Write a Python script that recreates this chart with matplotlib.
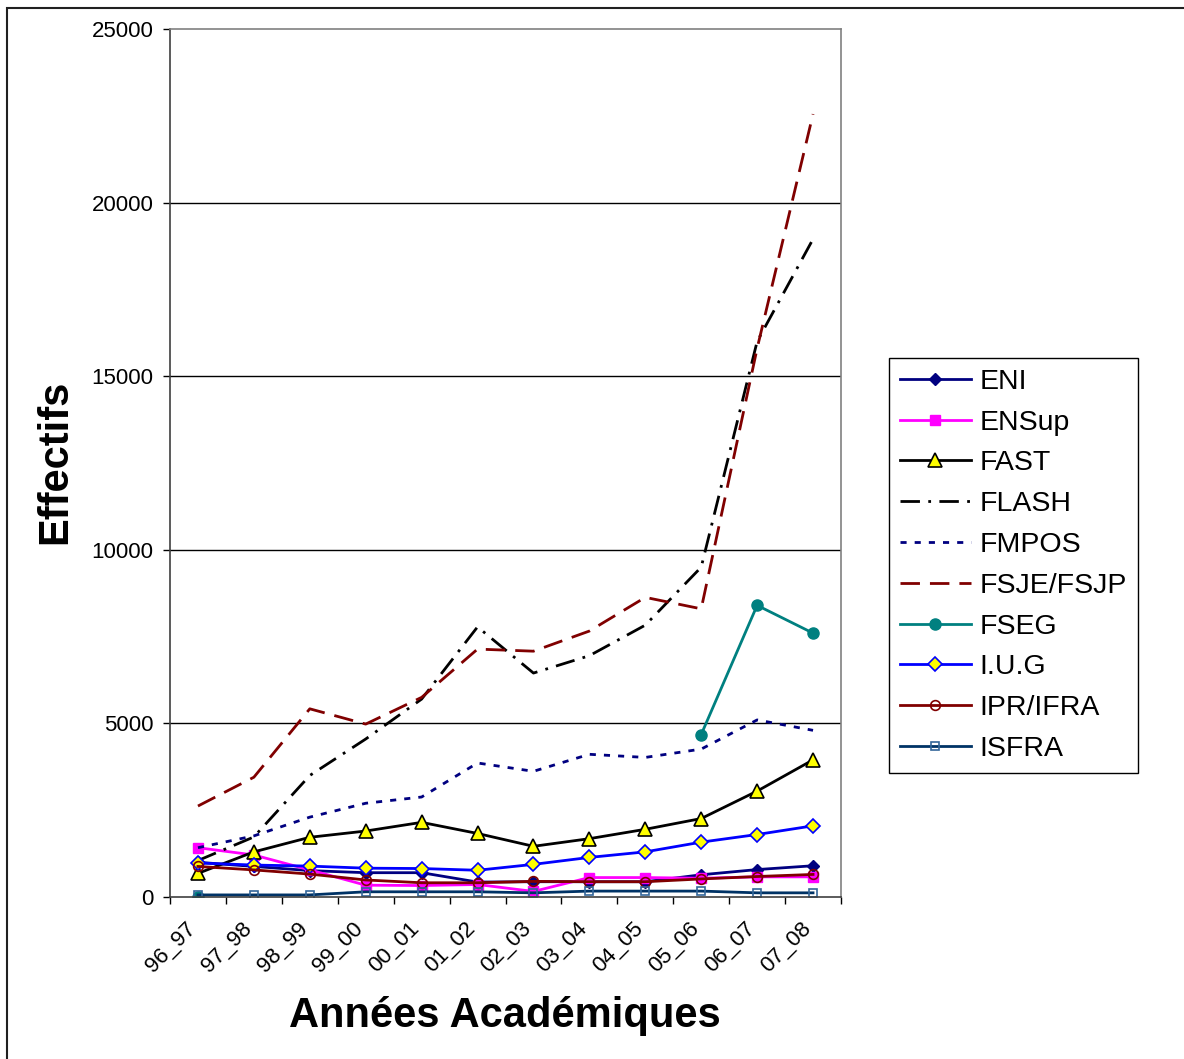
import numpy as np
import matplotlib.pyplot as plt
from matplotlib.patches import Rectangle
from matplotlib.transforms import ScaledTranslation

plt.rcParams['font.family'] = ['Liberation Sans', 'DejaVu Sans']

annees = ['96_97', '97_98', '98_99', '99_00', '00_01', '01_02',
          '02_03', '03_04', '04_05', '05_06', '06_07', '07_08']

eni = [1000, 880, 760, 700, 700, 430, 440, 440, 440, 640, 790, 900]
ensup = [1420, 1210, 780, 340, 330, 360, 160, 560, 560, 540, 580, 580]
fast = [680, 1300, 1720, 1900, 2150, 1830, 1460, 1680, 1950, 2260, 3050, 3950]
flash = [1050, 1730, 3500, 4550, 5700, 7780, 6450, 6950, 7830, 9500, 16000, 18950]
fmpos = [1420, 1760, 2300, 2700, 2880, 3860, 3620, 4110, 4020, 4260, 5100, 4800]
fsje = [2620, 3450, 5420, 4980, 5750, 7140, 7080, 7660, 8630, 8300, 15800, 22550]
fseg = [0, np.nan, np.nan, np.nan, np.nan, np.nan,
        np.nan, np.nan, np.nan, 4680, 8400, 7600]
iug = [980, 920, 890, 830, 820, 770, 940, 1140, 1300, 1580, 1800, 2050]
ipr = [880, 780, 660, 490, 410, 410, 450, 440, 440, 520, 590, 650]
isfra = [60, 60, 60, 150, 150, 150, 120, 170, 170, 170, 120, 120]

fig = plt.figure(figsize=(11.84, 10.59), dpi=100)
ax = fig.add_axes([170/1184, 1 - 897/1059, 671/1184, 868/1059])
x = np.arange(len(annees))

ax.plot(x, eni, color='#000080', lw=2, marker='D', ms=6,
        mfc='#000080', mec='#000080', label='ENI')
ax.plot(x, ensup, color='#FF00FF', lw=2, marker='s', ms=6.5,
        mfc='#FF00FF', mec='#FF00FF', label='ENSup')
ax.plot(x, fast, color='black', lw=2, marker='^', ms=10,
        mfc='#FFFF00', mec='black', mew=1.2, label='FAST')
ax.plot(x, flash, color='black', lw=2, ls=(0, (7, 3, 1, 3)), label='FLASH')
ax.plot(x, fmpos, color='#000080', lw=2, ls=(0, (2.2, 2.9)), label='FMPOS')
ax.plot(x, fsje, color='#800000', lw=2, ls=(0, (7, 3.6)), label='FSJE/FSJP')
ax.plot(x, fseg, color='#008080', lw=2, marker='o', ms=8,
        mfc='#008080', mec='#008080', label='FSEG')
ax.plot(x, iug, color='#0000FF', lw=2, marker='D', ms=7.5,
        mfc='#FFFF00', mec='#0000FF', mew=1.2, label='I.U.G')
ax.plot(x, ipr, color='#800000', lw=2, marker='o', ms=7,
        mfc='none', mec='#800000', mew=1.2, label='IPR/IFRA')
ax.plot(x, isfra, color='#003366', lw=2, marker='s', ms=6,
        mfc='none', mec='#336699', mew=1.2, label='ISFRA')

ax.set_xlim(-0.5, len(annees) - 0.5)
ax.set_ylim(0, 25000)
yt = np.arange(0, 25001, 5000)
ax.set_yticks(yt)
for v in yt[1:-1]:
    ax.axhline(v, color='black', lw=1, zorder=0.5)

ax.set_xticks(x)
ax.set_xticklabels(annees, rotation=45, ha='right', va='top',
                   rotation_mode='anchor', fontsize=16)
ax.set_xticks(np.arange(-0.5, len(annees)), minor=True)
ax.tick_params(axis='x', which='major', length=0, pad=15)
ax.tick_params(axis='x', which='minor', length=5, width=1, direction='out')
ax.tick_params(axis='y', length=5, width=1, direction='out', pad=7, labelsize=16)
shift = ScaledTranslation(-13/100, 0, fig.dpi_scale_trans)
for lab in ax.get_xticklabels():
    lab.set_transform(lab.get_transform() + shift)

for s in ['top', 'right']:
    ax.spines[s].set_color('#808080')
    ax.spines[s].set_linewidth(1.2)
for s in ['left', 'bottom']:
    ax.spines[s].set_color('#404040')
    ax.spines[s].set_linewidth(1.2)

fig.text(505/1184, 1 - 1016/1059, 'Années Académiques', fontsize=30,
         fontweight='bold', ha='center', va='center')
fig.text(55/1184, 1 - 462/1059, 'Effectifs', fontsize=30,
         fontweight='bold', ha='center', va='center', rotation=90)

leg = ax.legend(loc='upper left', bbox_to_anchor=(889/1184, 1 - 358/1059),
                bbox_transform=fig.transFigure, fontsize=20.5, frameon=True,
                fancybox=False, edgecolor='black', framealpha=1,
                handlelength=2.5, handletextpad=0.3, labelspacing=0.52,
                borderpad=0.38, borderaxespad=0)
leg.get_frame().set_linewidth(1)

# outer chart frame
fig.patches.append(Rectangle((7/1184, -0.1), 1.2, 1.1 - 8/1059,
                             transform=fig.transFigure, fill=False,
                             edgecolor='#202020', lw=1.5))

fig.savefig('out.png', dpi=100)
